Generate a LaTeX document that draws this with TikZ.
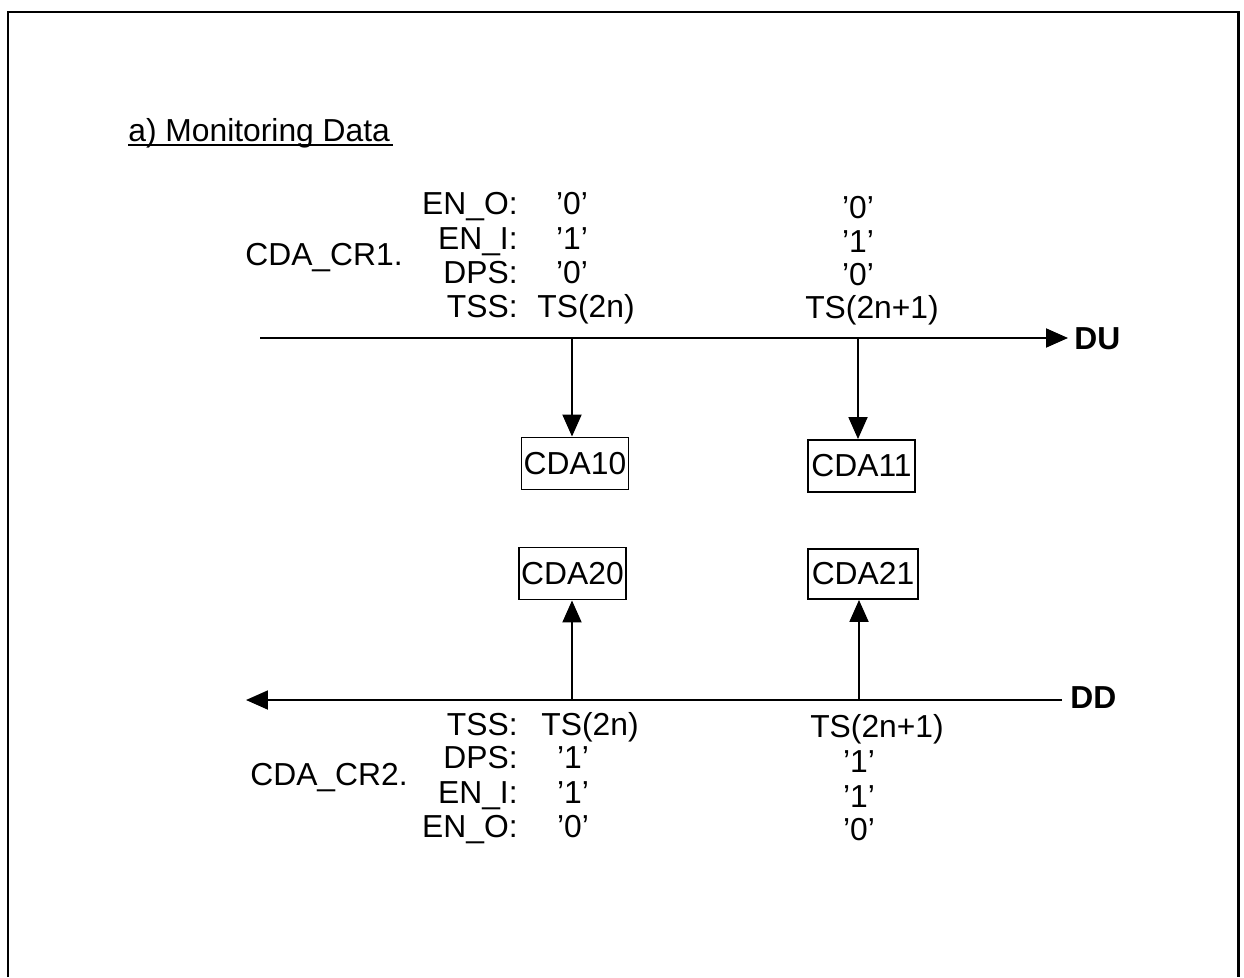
\documentclass[tikz,border=0pt]{standalone}
\usepackage{fontspec}
\setmainfont{Liberation Sans}
\usetikzlibrary{arrows.meta}
\begin{document}
\begin{tikzpicture}[x=0.02cm,y=-0.02cm,
  every node/.style={font=\fontsize{18.1}{21}\selectfont},
  txt/.style={inner sep=0pt},
  lbl/.style={txt,anchor=base east},
  val/.style={txt,anchor=base},
  cdabox/.style={draw,line width=1.1pt,inner sep=0pt,minimum width=2.14cm,minimum height=1.04cm},
  frameline/.style={line width=1.7pt},
  wire/.style={line width=1.1pt},
  arr/.style={wire,-{Triangle[length=0.44cm,width=0.38cm]}}]
\useasboundingbox (0,0) rectangle (1244,977);
% frame
\draw[frameline] (8,977) -- (8,12) -- (1238,12) -- (1238,977);
% title
\node[txt,anchor=base west] (title) at (128,141) {a) Monitoring Data};
\draw[line width=1.1pt] (title.base west) ++(0,4) -- ++(265,0);
% upper block
\node[txt,anchor=base west] (cr1) at (245,265) {CDA\_CR1.};
\node[lbl] (u1l) at (518,214) {EN\_O:};
\node[lbl] (u2l) at (518,249) {EN\_I:};
\node[lbl] (u3l) at (518,283) {DPS:};
\node[lbl] (u4l) at (518,317) {TSS:};
\node[val] (u1a) at (572,214) {’0’};
\node[val] (u2a) at (572,249) {’1’};
\node[val] (u3a) at (572,283) {’0’};
\node[val] (u4a) at (586,317) {TS(2n)};
\node[val] (u1b) at (858,218) {’0’};
\node[val] (u2b) at (858,252) {’1’};
\node[val] (u3b) at (858,285) {’0’};
\node[val] (u4b) at (872,318) {TS(2n+1)};
% DU line
\coordinate (dus) at (260,338);
\coordinate (due) at (1068,338);
\node[txt,anchor=west,font=\fontsize{18.1}{21}\selectfont\bfseries] (DU) at (1074,339) {DU};
\draw[arr] (dus) -- (due);
\coordinate (j1) at (572,338);
\coordinate (j2) at (858,338);
% boxes
\node[cdabox] (c10) at (575,463.5) {CDA10};
\node[cdabox,minimum width=2.14cm] (c11) at (861.5,466) {CDA11};
\node[cdabox] (c20) at (572.5,573.5) {CDA20};
\node[cdabox,minimum width=2.2cm,minimum height=1.0cm] (c21) at (863,574) {CDA21};
\draw[arr] (j1) -- (j1 |- c10.north);
\draw[arr] (j2) -- (j2 |- c11.north);
% DD line
\coordinate (dds) at (1062,700);
\coordinate (dde) at (246,700);
\node[txt,anchor=west,font=\fontsize{18.1}{21}\selectfont\bfseries] (DD) at (1070,698) {DD};
\draw[arr] (dds) -- (dde);
\coordinate (k1) at (572,700);
\coordinate (k2) at (859,700);
\draw[arr] (k1) -- (k1 |- c20.south);
\draw[arr] (k2) -- (k2 |- c21.south);
% lower block
\node[txt,anchor=base west] (cr2) at (250,785) {CDA\_CR2.};
\node[lbl] (d1l) at (518,735) {TSS:};
\node[lbl] (d2l) at (518,768) {DPS:};
\node[lbl] (d3l) at (518,803) {EN\_I:};
\node[lbl] (d4l) at (518,837) {EN\_O:};
\node[val] (d1a) at (590,735) {TS(2n)};
\node[val] (d2a) at (573,768) {’1’};
\node[val] (d3a) at (573,803) {’1’};
\node[val] (d4a) at (573,837) {’0’};
\node[val] (d1b) at (877,737) {TS(2n+1)};
\node[val] (d2b) at (859,772) {’1’};
\node[val] (d3b) at (859,807) {’1’};
\node[val] (d4b) at (859,840) {’0’};
\end{tikzpicture}
\end{document}
